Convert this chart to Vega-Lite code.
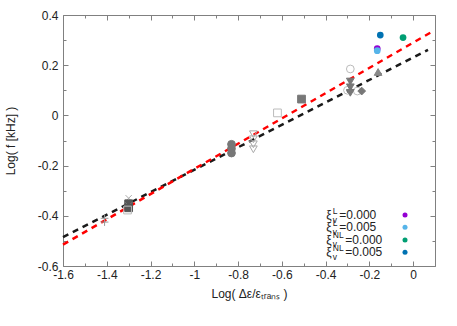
{
  "$schema": "https://vega.github.io/schema/vega-lite/v6.json",
  "width": 372,
  "height": 251,
  "autosize": "none",
  "padding": {"left": 63, "top": 15, "right": 22, "bottom": 60},
  "config": {
    "view": {"stroke": "#808080", "strokeWidth": 1},
    "font": "Liberation Sans",
    "axis": {
      "domain": false,
      "grid": false,
      "tickColor": "#808080",
      "labelColor": "#222222",
      "labelFont": "Liberation Sans",
      "labelFontSize": 12,
      "titleFont": "Liberation Sans",
      "titleFontSize": 12,
      "titleFontWeight": "normal",
      "titleColor": "#222222"
    }
  },
  "datasets": {
    "fits": [
      {"fit": "black", "x": -1.6, "y": -0.485},
      {"fit": "black", "x": 0.068, "y": 0.261},
      {"fit": "red", "x": -1.6, "y": -0.515},
      {"fit": "red", "x": 0.08, "y": 0.33}
    ],
    "gray": [
      {"series": "plus", "x": -1.41, "y": -0.41},
      {"series": "plus", "x": -1.41, "y": -0.425},
      {"series": "xcross", "x": -1.3, "y": -0.33},
      {"series": "sqDark", "x": -1.3, "y": -0.352},
      {"series": "xcross", "x": -1.3, "y": -0.36},
      {"series": "sqDark", "x": -1.3, "y": -0.368},
      {"series": "sqOpen", "x": -1.305, "y": -0.377},
      {"series": "circFill", "x": -0.83, "y": -0.115},
      {"series": "circFill", "x": -0.83, "y": -0.132},
      {"series": "circFill", "x": -0.83, "y": -0.15},
      {"series": "triDownOpen", "x": -0.73, "y": -0.075},
      {"series": "triDownOpen", "x": -0.73, "y": -0.095},
      {"series": "triDownOpen", "x": -0.73, "y": -0.115},
      {"series": "triDownOpen", "x": -0.73, "y": -0.135},
      {"series": "sqOpen", "x": -0.62, "y": 0.01},
      {"series": "sqFill", "x": -0.51, "y": 0.065},
      {"series": "circOpen", "x": -0.287, "y": 0.185},
      {"series": "circOpen", "x": -0.3, "y": 0.1},
      {"series": "circOpen", "x": -0.255, "y": 0.097},
      {"series": "triDownFill", "x": -0.287, "y": 0.135},
      {"series": "triDownFill", "x": -0.287, "y": 0.112},
      {"series": "triDownFill", "x": -0.287, "y": 0.09},
      {"series": "diamond", "x": -0.235, "y": 0.097},
      {"series": "triUp", "x": -0.16, "y": 0.173}
    ],
    "colored": [
      {"series": "L0", "x": -0.164, "y": 0.266},
      {"series": "L5", "x": -0.164, "y": 0.258},
      {"series": "NL5", "x": -0.15, "y": 0.32},
      {"series": "NL0", "x": -0.046, "y": 0.31}
    ],
    "legend": [
      {"series": "L0", "kind": "L", "sym": "ξ", "sub": "v", "sup": "L", "value": "=0.000", "tx": -0.397, "dx": -0.037, "y": -0.397},
      {"series": "L5", "kind": "L", "sym": "ξ", "sub": "v", "sup": "L", "value": "=0.005", "tx": -0.397, "dx": -0.037, "y": -0.446},
      {"series": "NL0", "kind": "NL", "sym": "ξ", "sub": "v", "sup": "NL", "value": "=0.000", "tx": -0.397, "dx": -0.037, "y": -0.496},
      {"series": "NL5", "kind": "NL", "sym": "ξ", "sub": "v", "sup": "NL", "value": "=0.005", "tx": -0.397, "dx": -0.037, "y": -0.545}
    ]
  },
  "resolve": {"axis": {"x": "independent", "y": "independent"}},
  "layer": [
    {
      "data": {"name": "fits"},
      "transform": [{"filter": "datum.fit == 'black'"}],
      "mark": {"type": "line", "strokeWidth": 2.5, "strokeDash": [6, 5], "strokeCap": "butt", "color": "#1a1a1a"},
      "encoding": {
        "x": {
          "field": "x", "type": "quantitative",
          "scale": {"domain": [-1.6, 0.1], "nice": false, "zero": false},
          "axis": {
            "orient": "bottom",
            "values": [-1.6, -1.5, -1.4, -1.3, -1.2, -1.1, -1.0, -0.9, -0.8, -0.7, -0.6, -0.5, -0.4, -0.3, -0.2, -0.1, 0.0, 0.1],
            "labelExpr": "abs(round(datum.value*10))%2==0 ? toString(round(datum.value*10)/10) : ''",
            "tickSize": {"condition": {"test": "abs(round(datum.value*10))%2==0", "value": -5}, "value": -3},
            "labelPadding": 8,
            "labelFlush": false,
            "title": "Log( Δε/εₜᵣₐₙₛ )",
            "titlePadding": 8
          }
        },
        "y": {
          "field": "y", "type": "quantitative",
          "scale": {"domain": [-0.6, 0.4], "nice": false, "zero": false},
          "axis": {
            "orient": "left",
            "values": [-0.6, -0.5, -0.4, -0.3, -0.2, -0.1, 0.0, 0.1, 0.2, 0.3, 0.4],
            "labelExpr": "abs(round(datum.value*10))%2==0 ? toString(round(datum.value*10)/10) : ''",
            "tickSize": {"condition": {"test": "abs(round(datum.value*10))%2==0", "value": -5}, "value": -3},
            "labelPadding": 10,
            "labelFlush": false,
            "title": "Log( f [kHz] )",
            "titlePadding": 20
          }
        }
      }
    },
    {
      "data": {"name": "fits"},
      "transform": [{"filter": "datum.fit == 'red'"}],
      "mark": {"type": "line", "strokeWidth": 2.5, "strokeDash": [6, 5], "strokeCap": "butt", "color": "#ff0000"},
      "encoding": {
        "x": {"field": "x", "type": "quantitative", "axis": null},
        "y": {"field": "y", "type": "quantitative", "axis": null}
      }
    },
    {
      "data": {"name": "gray"},
      "mark": {"type": "point", "size": 60, "strokeWidth": 1, "opacity": 1},
      "encoding": {
        "x": {
          "field": "x", "type": "quantitative",
          "axis": {
            "orient": "top",
            "values": [-1.6, -1.5, -1.4, -1.3, -1.2, -1.1, -1.0, -0.9, -0.8, -0.7, -0.6, -0.5, -0.4, -0.3, -0.2, -0.1, 0.0, 0.1],
            "labels": false,
            "title": null,
            "tickSize": {"condition": {"test": "abs(round(datum.value*10))%2==0", "value": -5}, "value": -3}
          }
        },
        "y": {
          "field": "y", "type": "quantitative",
          "axis": {
            "orient": "right",
            "values": [-0.6, -0.5, -0.4, -0.3, -0.2, -0.1, 0.0, 0.1, 0.2, 0.3, 0.4],
            "labels": false,
            "title": null,
            "tickSize": {"condition": {"test": "abs(round(datum.value*10))%2==0", "value": -5}, "value": -3}
          }
        },
        "shape": {
          "field": "series", "type": "nominal", "legend": null,
          "scale": {
            "domain": ["plus", "xcross", "sqDark", "sqOpen", "circFill", "triDownOpen", "sqFill", "circOpen", "triDownFill", "diamond", "triUp"],
            "range": ["M-1,0H1M0,-1V1", "M-0.8,-0.8L0.8,0.8M-0.8,0.8L0.8,-0.8", "square", "square", "circle", "triangle-down", "square", "circle", "triangle-down", "diamond", "triangle-up"]
          }
        },
        "fill": {
          "field": "series", "type": "nominal", "legend": null,
          "scale": {
            "domain": ["plus", "xcross", "sqDark", "sqOpen", "circFill", "triDownOpen", "sqFill", "circOpen", "triDownFill", "diamond", "triUp"],
            "range": ["transparent", "transparent", "#555555", "transparent", "#777777", "transparent", "#777777", "transparent", "#777777", "#777777", "#888888"]
          }
        },
        "stroke": {
          "field": "series", "type": "nominal", "legend": null,
          "scale": {
            "domain": ["plus", "xcross", "sqDark", "sqOpen", "circFill", "triDownOpen", "sqFill", "circOpen", "triDownFill", "diamond", "triUp"],
            "range": ["#999999", "#aaaaaa", "#555555", "#bbbbbb", "#777777", "#aaaaaa", "#777777", "#bbbbbb", "#777777", "#777777", "#888888"]
          }
        }
      }
    },
    {
      "data": {"name": "colored"},
      "mark": {"type": "circle", "size": 45, "opacity": 1},
      "encoding": {
        "x": {"field": "x", "type": "quantitative", "axis": null},
        "y": {"field": "y", "type": "quantitative", "axis": null},
        "color": {
          "field": "series", "type": "nominal", "legend": null,
          "scale": {"domain": ["L0", "L5", "NL0", "NL5"], "range": ["#9400d3", "#56b4e9", "#009e73", "#0072b2"]}
        }
      }
    },
    {
      "data": {"name": "legend"},
      "mark": {"type": "text", "align": "left", "baseline": "middle", "fontSize": 12, "font": "Liberation Sans", "color": "#222222"},
      "encoding": {
        "x": {"field": "tx", "type": "quantitative", "axis": null},
        "y": {"field": "y", "type": "quantitative", "axis": null},
        "text": {"field": "sym"}
      }
    },
    {
      "data": {"name": "legend"},
      "mark": {"type": "text", "align": "left", "baseline": "middle", "fontSize": 8.5, "font": "Liberation Sans", "color": "#222222", "dx": 6.5, "dy": 4.5},
      "encoding": {
        "x": {"field": "tx", "type": "quantitative", "axis": null},
        "y": {"field": "y", "type": "quantitative", "axis": null},
        "text": {"field": "sub"}
      }
    },
    {
      "data": {"name": "legend"},
      "mark": {"type": "text", "align": "left", "baseline": "middle", "fontSize": 8.5, "font": "Liberation Sans", "color": "#222222", "dx": 6.5, "dy": -4.5},
      "encoding": {
        "x": {"field": "tx", "type": "quantitative", "axis": null},
        "y": {"field": "y", "type": "quantitative", "axis": null},
        "text": {"field": "sup"}
      }
    },
    {
      "data": {"name": "legend"},
      "transform": [{"filter": "datum.kind == 'L'"}],
      "mark": {"type": "text", "align": "left", "baseline": "middle", "fontSize": 12, "font": "Liberation Sans", "color": "#222222", "dx": 13},
      "encoding": {
        "x": {"field": "tx", "type": "quantitative", "axis": null},
        "y": {"field": "y", "type": "quantitative", "axis": null},
        "text": {"field": "value"}
      }
    },
    {
      "data": {"name": "legend"},
      "transform": [{"filter": "datum.kind == 'NL'"}],
      "mark": {"type": "text", "align": "left", "baseline": "middle", "fontSize": 12, "font": "Liberation Sans", "color": "#222222", "dx": 19},
      "encoding": {
        "x": {"field": "tx", "type": "quantitative", "axis": null},
        "y": {"field": "y", "type": "quantitative", "axis": null},
        "text": {"field": "value"}
      }
    },
    {
      "data": {"name": "legend"},
      "mark": {"type": "circle", "size": 25, "opacity": 1},
      "encoding": {
        "x": {"field": "dx", "type": "quantitative", "axis": null},
        "y": {"field": "y", "type": "quantitative", "axis": null},
        "color": {
          "field": "series", "type": "nominal", "legend": null,
          "scale": {"domain": ["L0", "L5", "NL0", "NL5"], "range": ["#9400d3", "#56b4e9", "#009e73", "#0072b2"]}
        }
      }
    }
  ]
}
